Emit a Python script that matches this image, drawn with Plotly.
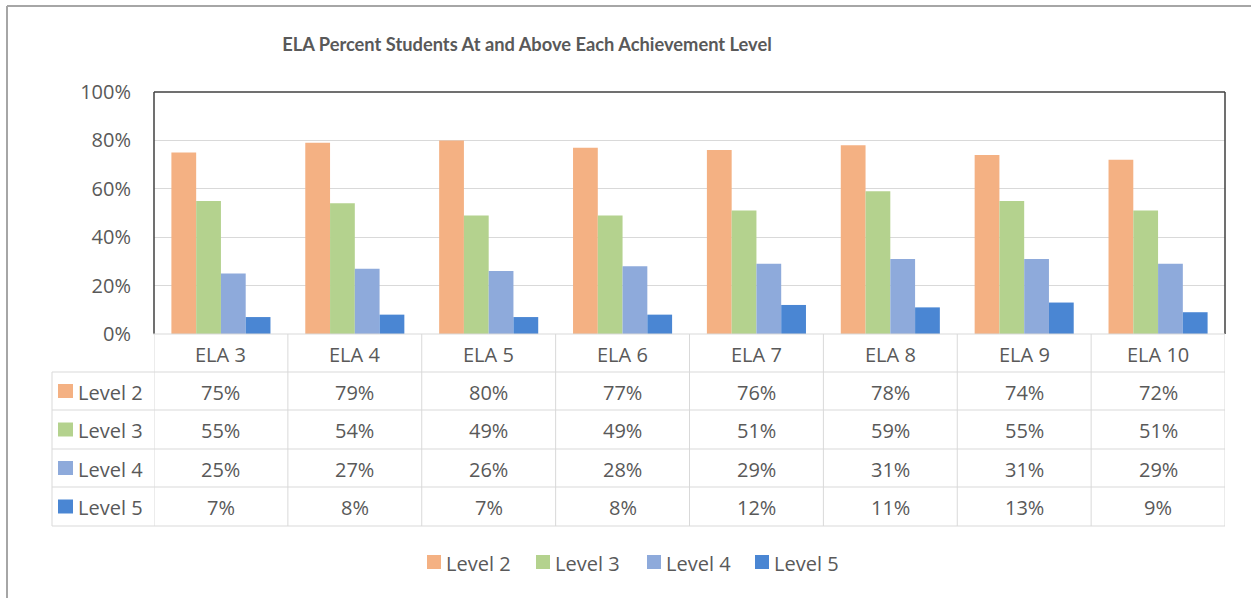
import plotly.graph_objects as go

# ---- data ----
categories = ["ELA 3", "ELA 4", "ELA 5", "ELA 6", "ELA 7", "ELA 8", "ELA 9", "ELA 10"]
series_names = ["Level 2", "Level 3", "Level 4", "Level 5"]
level2 = [75, 79, 80, 77, 76, 78, 74, 72]
level3 = [55, 54, 49, 49, 51, 59, 55, 51]
level4 = [25, 27, 26, 28, 29, 31, 31, 29]
level5 = [7, 8, 7, 8, 12, 11, 13, 9]
y_ticks = [0, 20, 40, 60, 80, 100]
y_tick_labels = ["0%", "20%", "40%", "60%", "80%", "100%"]

series_values = [level2, level3, level4, level5]
colors = ["#F4B183", "#B4D28E", "#8EAADB", "#4A86D3"]

W, H = 1251, 598
L, R, T, B = 154, 26, 92, 264  # plot-area margins
FONT = "Open Sans"
TITLE_FONT = "Lato"
TXT = "#595959"
GRID = "#D9D9D9"
FS = 20


def py(p):
    """pixel row -> paper y"""
    return (H - B - p) / (H - T - B)


def px(p):
    """pixel column -> paper x"""
    return (p - L) / (W - L - R)


fig = go.Figure()
for name, vals, c in zip(series_names, series_values, colors):
    fig.add_trace(go.Bar(x=categories, y=vals, name=name, marker_color=c,
                         marker_line_width=0, showlegend=False))

shapes = []
annotations = []
n = len(categories)

# plot-area frame (left, top, right)
for x0, y0, x1, y1 in [(0, 0, 0, 1), (0, 1, 1, 1), (1, 1, 1, 0)]:
    shapes.append(dict(type="line", xref="paper", yref="paper", x0=x0, y0=y0,
                       x1=x1, y1=y1, line=dict(color="#404040", width=1.5)))

# data table beneath the chart
row_edges = [334, 372, 410, 449, 487, 526]
left_edge = 52
for i, r in enumerate(row_edges):
    shapes.append(dict(type="line", xref="paper", yref="paper",
                       x0=px(153) if i == 0 else px(left_edge), x1=1,
                       y0=py(r), y1=py(r), line=dict(color=GRID, width=1)))
shapes.append(dict(type="line", xref="paper", yref="paper", x0=px(left_edge),
                   x1=px(left_edge), y0=py(row_edges[1]), y1=py(row_edges[-1]),
                   line=dict(color=GRID, width=1)))
for k in range(n + 1):
    shapes.append(dict(type="line", xref="x", yref="paper", x0=k - 0.5, x1=k - 0.5,
                       y0=py(row_edges[0]), y1=py(row_edges[-1]),
                       line=dict(color=GRID, width=1)))

# header row: category names
for k, cat in enumerate(categories):
    annotations.append(dict(x=k, y=py((row_edges[0] + row_edges[1]) / 2 + 1), xref="x",
                            yref="paper", text=cat, showarrow=False,
                            yanchor="middle",
                            font=dict(family=FONT, size=FS, color=TXT)))

# value rows with swatch + series label
for j, (name, vals, c) in enumerate(zip(series_names, series_values, colors)):
    mid = (row_edges[j + 1] + row_edges[j + 2]) / 2
    yc = py(mid + 1)
    shapes.append(dict(type="rect", xref="paper", yref="paper", x0=px(58), x1=px(73),
                       y0=py(mid - 7), y1=py(mid + 7), fillcolor=c, line_width=0))
    annotations.append(dict(x=px(76), y=yc, xref="paper", yref="paper", text=name,
                            showarrow=False, xanchor="left", yanchor="middle",
                            font=dict(family=FONT, size=FS, color=TXT)))
    for k, v in enumerate(vals):
        annotations.append(dict(x=k, y=yc, xref="x", yref="paper", text=f"{v}%",
                                showarrow=False, yanchor="middle",
                                font=dict(family=FONT, size=FS, color=TXT)))

# legend below the table
legend_x = [427, 536, 647, 755]
legend_y = 562
for name, c, lx in zip(series_names, colors, legend_x):
    shapes.append(dict(type="rect", xref="paper", yref="paper", x0=px(lx),
                       x1=px(lx + 14), y0=py(legend_y - 7), y1=py(legend_y + 7),
                       fillcolor=c, line_width=0))
    annotations.append(dict(x=px(lx + 17), y=py(legend_y + 1), xref="paper",
                            yref="paper", text=name, showarrow=False,
                            xanchor="left", yanchor="middle",
                            font=dict(family=FONT, size=FS, color=TXT)))

# outer chart border (top and left)
shapes.append(dict(type="line", xref="paper", yref="paper", x0=px(7), x1=px(W + 5),
                   y0=py(6), y1=py(6), line=dict(color="#A6A6A6", width=2)))
shapes.append(dict(type="line", xref="paper", yref="paper", x0=px(7), x1=px(7),
                   y0=py(6), y1=py(H + 5), line=dict(color="#A6A6A6", width=2)))

fig.update_layout(
    width=W, height=H,
    margin=dict(l=L, r=R, t=T, b=B, pad=0),
    paper_bgcolor="white", plot_bgcolor="white",
    barmode="group", bargap=0.26, bargroupgap=0,
    title=dict(text="<b>ELA Percent Students At and Above Each Achievement Level</b>",
               x=527 / W, xanchor="center", y=1 - 45 / H, yanchor="middle",
               font=dict(family=TITLE_FONT, size=18.3, color=TXT)),
    xaxis=dict(range=[-0.5, n - 0.5], showticklabels=False, showgrid=False,
               zeroline=False, showline=False, ticks=""),
    yaxis=dict(range=[0, 100], tickvals=y_ticks, ticktext=y_tick_labels,
               showgrid=True, gridcolor=GRID, gridwidth=1, zeroline=False,
               showline=False, ticks="", ticklabelstandoff=22,
               tickfont=dict(family=FONT, size=FS, color=TXT)),
    shapes=shapes, annotations=annotations,
    showlegend=False,
)

fig.write_html("out.html")
